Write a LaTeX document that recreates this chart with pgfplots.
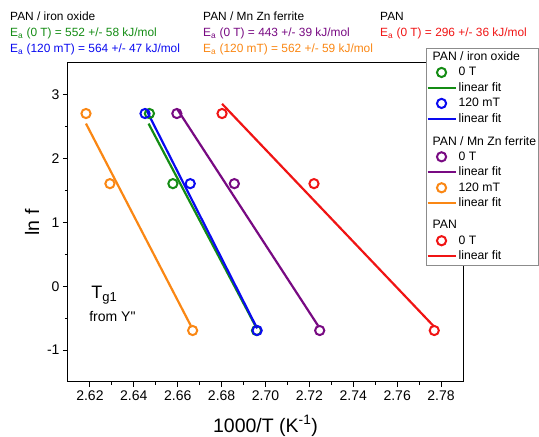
\documentclass[border=0pt]{standalone}
\usepackage{pgfplots}
\pgfplotsset{compat=1.18}
\usepackage{fontspec}
\setmainfont{Liberation Sans}

\definecolor{cgreen}{RGB}{20,140,20}
\definecolor{cblue}{RGB}{10,10,240}
\definecolor{cpurple}{RGB}{120,10,130}
\definecolor{corange}{RGB}{250,135,20}
\definecolor{cred}{RGB}{240,20,20}

\begin{document}
\begin{tikzpicture}
  \begin{axis}[
      name=ax,
      scale only axis,
      width=395pt, height=319pt,
      xmin=2.61, xmax=2.79,
      ymin=-1.5, ymax=3.5,
      xtick={2.62,2.64,...,2.78},
      ytick={-1,0,1,2,3},
      minor x tick num=1,
      minor y tick num=1,
      xtick pos=bottom, ytick pos=left,
      tick align=outside,
      major tick length=5pt, minor tick length=3pt,
      tick style={black, line width=0.9pt},
      axis line style={line width=1pt},
      x tick label style={/pgf/number format/.cd, fixed, fixed zerofill, precision=2},
      /pgf/number format/assume math mode=true,
      tick label style={font=\fontsize{14}{16}\selectfont},
      xlabel={1000/T (K\textsuperscript{-1})},
      ylabel={ln f},
      label style={font=\fontsize{19.5}{22}\selectfont},
      xlabel style={at={(axis description cs:0.5,-0.137)}, anchor=center},
      ylabel style={at={(axis description cs:-0.091,0.5)}, anchor=center},
      clip=false,
      legend cell align=left,
      legend image code/.code={\draw[mark repeat=2,mark phase=2,#1] plot coordinates {(0pt,0pt) (14pt,0pt) (28pt,0pt)};},
      legend style={at={(axis description cs:0.907,1.047)}, anchor=north west,
        font=\fontsize{12.2}{14}\selectfont, draw=black!45, fill=white,
        inner xsep=0pt, inner ysep=2pt, row sep=2.1pt,
        nodes={inner ysep=1.6pt}},
      every axis plot/.append style={line width=2.2pt},
      mark options={line width=2pt, solid},
      mark size=4.6pt,
    ]
    % measured points
    \addplot[only marks, mark=o, color=cgreen, forget plot] coordinates {(2.6471,2.708) (2.6578,1.609) (2.6959,-0.693)};
    \addplot[no markers, color=cgreen, forget plot] coordinates {(2.6467,2.55) (2.6954,-0.62)};
    \addplot[no markers, color=cblue, forget plot] coordinates {(2.6456,2.77) (2.6962,-0.66)};
    \addplot[only marks, mark=o, color=cblue, forget plot] coordinates {(2.6451,2.708) (2.6657,1.609) (2.6962,-0.693)};
    \addplot[only marks, mark=o, color=cpurple, forget plot] coordinates {(2.6596,2.708) (2.6858,1.609) (2.7247,-0.693)};
    \addplot[no markers, color=cpurple, forget plot] coordinates {(2.6599,2.77) (2.7240,-0.62)};
    \addplot[only marks, mark=o, color=corange, forget plot] coordinates {(2.6182,2.708) (2.6291,1.609) (2.6668,-0.693)};
    \addplot[no markers, color=corange, forget plot] coordinates {(2.6182,2.55) (2.6660,-0.62)};
    \addplot[only marks, mark=o, color=cred, forget plot] coordinates {(2.6802,2.708) (2.7221,1.609) (2.7769,-0.693)};
    \addplot[no markers, color=cred, forget plot] coordinates {(2.6802,2.86) (2.7765,-0.62)};

    % legend
    \addlegendimage{empty legend}\addlegendentry{\hspace*{-26pt}PAN / iron oxide}
    \addlegendimage{only marks, mark=o, color=cgreen}\addlegendentry{0 T}
    \addlegendimage{no markers, color=cgreen}\addlegendentry{linear fit}
    \addlegendimage{only marks, mark=o, color=cblue}\addlegendentry{120 mT}
    \addlegendimage{no markers, color=cblue}\addlegendentry{linear fit}
    \addlegendimage{empty legend}\addlegendentry{}
    \addlegendimage{empty legend}\addlegendentry{\hspace*{-26pt}PAN / Mn Zn ferrite}
    \addlegendimage{only marks, mark=o, color=cpurple}\addlegendentry{0 T}
    \addlegendimage{no markers, color=cpurple}\addlegendentry{linear fit}
    \addlegendimage{only marks, mark=o, color=corange}\addlegendentry{120 mT}
    \addlegendimage{no markers, color=corange}\addlegendentry{linear fit}
    \addlegendimage{empty legend}\addlegendentry{}
    \addlegendimage{empty legend}\addlegendentry{\hspace*{-26pt}PAN}
    \addlegendimage{only marks, mark=o, color=cred}\addlegendentry{0 T}
    \addlegendimage{no markers, color=cred}\addlegendentry{linear fit}

    \node[anchor=base west, font=\fontsize{18}{20}\selectfont] at (axis cs:2.6190,-0.19) {T\textsubscript{\fontsize{13}{13}\selectfont g1}};
    \node[anchor=west, font=\fontsize{14}{16}\selectfont] at (axis cs:2.6181,-0.48) {\addfontfeatures{Ligatures=TeXOff}from Y"};
  \end{axis}

  \begin{scope}[every node/.style={anchor=base west, inner sep=0pt, font=\fontsize{11.9}{13}\selectfont}]
    \node at ([shift={(-58pt,42pt)}]ax.north west) {PAN / iron oxide};
    \node[text=cgreen] at ([shift={(-58pt,26pt)}]ax.north west) {E\textsubscript{a} (0 T) = 552 +/- 58 kJ/mol};
    \node[text=cblue] at ([shift={(-58pt,10pt)}]ax.north west) {E\textsubscript{a} (120 mT) = 564 +/- 47 kJ/mol};
    \node at ([shift={(135pt,42pt)}]ax.north west) {PAN / Mn Zn ferrite};
    \node[text=cpurple] at ([shift={(135pt,26pt)}]ax.north west) {E\textsubscript{a} (0 T) = 443 +/- 39 kJ/mol};
    \node[text=corange] at ([shift={(135pt,10pt)}]ax.north west) {E\textsubscript{a} (120 mT) = 562 +/- 59 kJ/mol};
    \node at ([shift={(312pt,42pt)}]ax.north west) {PAN};
    \node[text=cred] at ([shift={(312pt,26pt)}]ax.north west) {E\textsubscript{a} (0 T) = 296 +/- 36 kJ/mol};
  \end{scope}

  \pgfresetboundingbox
  \path ([shift={(-68pt,-55pt)}]ax.south west) rectangle ([shift={(76pt,63pt)}]ax.north east);
\end{tikzpicture}
\end{document}
